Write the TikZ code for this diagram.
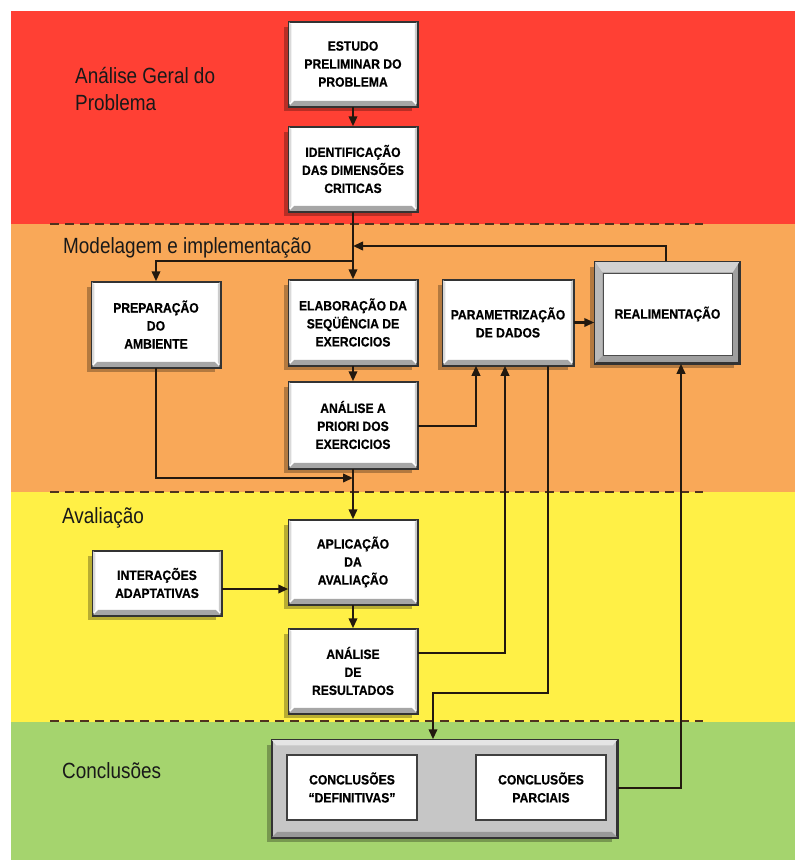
\documentclass[tikz,border=0pt]{standalone}
\usepackage{fontspec}
\setmainfont{Liberation Sans}
\newfontfamily\headfont[FakeStretch=0.86]{Liberation Sans}
\newfontfamily\boxfont[FakeStretch=0.9, FakeBold=0.6]{Liberation Sans Bold}
\usetikzlibrary{arrows.meta,shadows,calc}
\definecolor{bandred}{RGB}{255,64,52}
\definecolor{bandorange}{RGB}{249,168,88}
\definecolor{bandyellow}{RGB}{255,240,70}
\definecolor{bandgreen}{RGB}{165,212,110}
\definecolor{dashcol}{RGB}{80,50,30}
\definecolor{linecol}{RGB}{35,25,15}
\tikzset{
  x=1pt, y=-1pt,
  boxtext/.style={font=\boxfont\fontsize{13.5}{18}\selectfont},
  boxnode/.style={draw=black!80, line width=1.5pt, fill=white, inner sep=0pt, align=center, boxtext,
    drop shadow={shadow xshift=-5pt, shadow yshift=-5pt, opacity=0.28, fill=black}},
  headlabel/.style={anchor=base west, inner sep=0pt, align=left, text=black!90,
    font=\headfont\fontsize{22}{27}\selectfont},
  bandsep/.style={dashcol, line width=2.6pt, dash pattern=on 9pt off 6pt},
  conn/.style={linecol, line width=2.1pt},
  arr/.style={conn, -{Triangle[length=10pt,width=8.5pt]}},
}
\begin{document}
\begin{tikzpicture}
\useasboundingbox (0,0) rectangle (795,860);
% bands
\fill[white] (0,0) rectangle (795,860);
\fill[bandred] (11,11) rectangle (795,224);
\fill[bandorange] (11,224) rectangle (795,492);
\fill[bandyellow] (11,492) rectangle (795,722);
\fill[bandgreen] (11,722) rectangle (795,860);
\draw[bandsep] (50,224) -- (703,224);
\draw[bandsep] (50,492) -- (703,492);
\draw[bandsep] (50,721) -- (703,721);
% labels
\node[headlabel] (lab1) at (75,110) {Análise Geral do\\Problema};
\node[headlabel] (lab2) at (63,253) {Modelagem e implementação};
\node[headlabel] (lab3) at (62,523) {Avaliação};
\node[headlabel] (lab4) at (62,778) {Conclusões};
% boxes
\node[boxnode, minimum width=128, minimum height=84] (estudo) at (353,64) {ESTUDO\\PRELIMINAR DO\\PROBLEMA};
\node[boxnode, minimum width=128, minimum height=84] (ident) at (353,169) {IDENTIFICAÇÃO\\DAS DIMENSÕES\\CRITICAS};
\node[boxnode, minimum width=128, minimum height=85] (prep) at (156,324.5) {PREPARAÇÃO\\DO\\AMBIENTE};
\node[boxnode, minimum width=128, minimum height=85] (elab) at (353,322.5) {ELABORAÇÃO DA\\SEQÜÊNCIA DE\\EXERCICIOS};
\node[boxnode, minimum width=128, minimum height=86] (apriori) at (353,425) {ANÁLISE A\\PRIORI DOS\\EXERCICIOS};
\node[boxnode, minimum width=130, minimum height=85] (param) at (508,322.5) {PARAMETRIZAÇÃO\\DE DADOS};
\node[boxnode, minimum width=128, minimum height=64] (inter) at (157,583) {INTERAÇÕES\\ADAPTATIVAS};
\node[boxnode, minimum width=128, minimum height=84] (aplic) at (353,562) {APLICAÇÃO\\DA\\AVALIAÇÃO};
\node[boxnode, minimum width=128, minimum height=84] (analres) at (353,671) {ANÁLISE\\DE\\RESULTADOS};
% realimentacao (double frame)
\node[boxnode, fill=gray!75, minimum width=144, minimum height=101] (real) at (667,312.5) {};
\fill[gray!35] (real.north west) -- (real.north east) -- ++(-7,11) -- ($(real.north west)+(8,11)$) -- cycle;
\fill[gray!55] (real.north west) -- (real.south west) -- ++(8,-8) -- ($(real.north west)+(8,11)$) -- cycle;
\draw[black!80, line width=1.5pt] (real.south west) rectangle (real.north east);
\node[draw=black!70, line width=1pt, fill=white, inner sep=0pt, minimum width=129, minimum height=82,
  boxtext] (realin) at (667.5,314) {REALIMENTAÇÃO};
% conclusions container
\node[boxnode, fill=gray!45, minimum width=345, minimum height=97] (concl) at (444.5,788.5) {};
\fill[gray!20] (concl.north west) -- (concl.north east) -- ++(-5,6) -- ($(concl.north west)+(5,6)$) -- cycle;
\fill[gray!80] (concl.south west) -- (concl.south east) -- ++(-6,-6) -- ($(concl.south west)+(6,-6)$) -- cycle;
\draw[black!80, line width=1.5pt] (concl.south west) rectangle (concl.north east);
\node[draw=black!75, line width=1.1pt, fill=white, inner sep=0pt, align=center, minimum width=130, minimum height=65,
  boxtext] (cdef) at (352,787.5) {CONCLUSÕES\\“DEFINITIVAS”};
\node[draw=black!75, line width=1.1pt, fill=white, inner sep=0pt, align=center, minimum width=130, minimum height=65,
  boxtext] (cpar) at (541,787.5) {CONCLUSÕES\\PARCIAIS};
% bevels on white boxes
\foreach \n in {estudo,ident,prep,elab,apriori,param,inter,aplic,analres}{
  \fill[gray!70] (\n.south west) -- (\n.south east) -- ($(\n.south east)+(-6,-6)$) -- ($(\n.south west)+(6,-6)$) -- cycle;
  \fill[gray!40] (\n.south east) -- (\n.north east) -- ($(\n.north east)+(-3,3)$) -- ($(\n.south east)+(-3,-6)$) -- cycle;
  \fill[gray!30] (\n.south west) -- (\n.north west) -- ($(\n.north west)+(3,3)$) -- ($(\n.south west)+(3,-6)$) -- cycle;
  \draw[black!80, line width=1.5pt] (\n.south west) rectangle (\n.north east);
}
% coordinates for connectors
\coordinate (j) at (353,261);
\coordinate (fb) at (666,246);
\coordinate (p1) at (476,426);
\coordinate (p2) at (153,478);
\coordinate (p3) at (221,589);
\coordinate (p4) at (505,653);
\coordinate (p5) at (548,693);
\coordinate (p6) at (433,693);
\coordinate (p7) at (681,788);
% connectors
\draw[arr] (estudo.south) -- (ident.north);
\draw[conn] (ident.south) -- (j);
\draw[arr] (j) -| (prep.north);
\draw[arr] (j) -- (elab.north);
\draw[arr] (real.north -| fb) |- (ident.south |- fb);
\draw[arr] (elab.south) -- (apriori.north);
\draw[arr] (param.east) -- (param.east -| real.west);
\draw[arr] (apriori.east |- p1) -| (param.south -| p1);
\draw[arr] (prep.south) |- (apriori.south |- p2);
\draw[arr] (apriori.south) -- (aplic.north);
\draw[arr] (inter.east |- p3) -- (aplic.west |- p3);
\draw[arr] (aplic.south) -- (analres.north);
\draw[arr] (analres.east |- p4) -| (param.south -| p4);
\draw[arr] (param.south -| p5) |- (p6) -- (concl.north -| p6);
\draw[arr] (concl.east |- p7) -| (real.south -| p7);
\end{tikzpicture}
\end{document}
